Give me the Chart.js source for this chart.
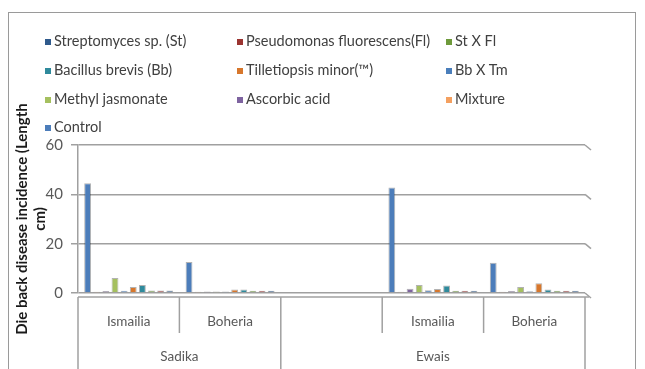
<!DOCTYPE html>
<html>
<head>
<meta charset="utf-8">
<script src="https://cdn.jsdelivr.net/npm/chart.js@4.4.1/dist/chart.umd.min.js"></script>
<style>
  html, body { margin: 0; padding: 0; background: #fff; }
  #wrap { position: relative; width: 645px; height: 369px; overflow: hidden; }
  #frame { position: absolute; left: 8px; top: 12px; width: 628px; height: 400px; border: 1px solid #9a9a9a; box-sizing: border-box; }
  #legend { position: absolute; left: 0; top: 0; font: 14.5px Lato, sans-serif; color: #404040; }
  .item { position: absolute; white-space: nowrap; line-height: 16px; }
  .sw { display: inline-block; width: 6px; height: 6px; margin-right: 3px; vertical-align: 1px; }
  canvas { position: absolute; left: 0; top: 0; }
</style>
</head>
<body>
<div id="wrap">
  <div id="frame"></div>
  <canvas id="chart" width="645" height="369"></canvas>
  <div id="legend"></div>
</div>
<script>
// categories: locations (inner level) and cultivars (outer level)
const categories = ['Ismailia', 'Boheria', '', 'Ismailia', 'Boheria'];
const groups = ['Sadika', 'Ewais'];
const groupSpans = [2, 3];
const yTicks = [0, 20, 40, 60];

// series, in legend order
const seriesNames = [
    'Streptomyces sp. (St)', 'Pseudomonas fluorescens(Fl)', 'St X Fl',
    'Bacillus brevis (Bb)', 'Tilletiopsis minor(\u2122)', 'Bb X Tm',
    'Methyl jasmonate', 'Ascorbic acid', 'Mixture', 'Control'
];
const seriesColors = [
    '#2f5a8c', '#9b3431', '#6e9a3b', '#2f8a9c', '#d7772c',
    '#4a7ebb', '#a5c05f', '#7e63a0', '#f4a060', '#4c7dba'
];
const streptomyces = [1.0, 0.9, null, 0.9, 0.9];
const pseudomonas  = [1.0, 0.9, null, 0.9, 0.9];
const stXfl        = [1.0, 0.9, null, 0.9, 0.9];
const bacillus     = [3.2, 1.4, null, 3.0, 1.4];
const tilletiopsis = [2.4, 1.4, null, 1.6, 4.0];
const bbXtm        = [0.9, 0.6, null, 1.1, 0.7];
const methyl       = [6.1, 0.6, null, 3.2, 2.4];
const ascorbic     = [0.8, 0.6, null, 1.7, 0.8];
const mixture      = [0.5, 0.5, null, 0.5, 0.5];
const control      = [44.5, 12.6, null, 42.8, 12.3];
const seriesValues = [streptomyces, pseudomonas, stXfl, bacillus, tilletiopsis,
                      bbXtm, methyl, ascorbic, mixture, control];

// bars are drawn in reverse legend order (Control first, as in the original)
const datasets = seriesNames.map((name, i) => ({
    label: name,
    data: seriesValues[i],
    backgroundColor: seriesColors[i],
    borderColor: 'rgba(0,0,0,0.3)',
    borderWidth: 1,
    categoryPercentage: 0.9,
    barPercentage: 0.75
})).reverse();

const axisColor = '#a0a0a0';
const labelFont = '13.5px Lato, sans-serif';

// two level category axis + 3d grid tails
const groupAxis = {
    id: 'groupAxis',
    afterDraw(chart) {
        const ctx = chart.ctx;
        const x = chart.scales.x, y = chart.scales.y;
        const slot = x.getPixelForValue(1) - x.getPixelForValue(0);
        const base = y.getPixelForValue(0) + 4;
        ctx.save();
        ctx.strokeStyle = axisColor;
        ctx.lineWidth = 1.5;
        // grid tails at the right
        yTicks.forEach(v => {
            const py = y.getPixelForValue(v);
            ctx.beginPath();
            ctx.moveTo(chart.chartArea.right, py);
            ctx.lineTo(chart.chartArea.right + 6, py + 5);
            ctx.stroke();
        });
        // floor line
        ctx.beginPath();
        ctx.moveTo(chart.chartArea.left, base);
        ctx.lineTo(chart.chartArea.right + 4, base);
        ctx.stroke();
        // separators
        const groupEdges = [0];
        groupSpans.reduce((acc, n) => { groupEdges.push(acc + n); return acc + n; }, 0);
        for (let i = 0; i <= categories.length; i++) {
            const px = x.getPixelForValue(0) - slot / 2 + i * slot;
            ctx.beginPath();
            ctx.moveTo(px, base);
            ctx.lineTo(px, groupEdges.includes(i) ? 369 : base + 36);
            ctx.stroke();
        }
        ctx.fillStyle = '#595959';
        ctx.font = labelFont;
        ctx.textAlign = 'center';
        ctx.textBaseline = 'middle';
        categories.forEach((c, i) => ctx.fillText(c, x.getPixelForValue(i), 322));
        groups.forEach((g, k) => {
            const a = x.getPixelForValue(0) - slot / 2 + groupEdges[k] * slot;
            const b = x.getPixelForValue(0) - slot / 2 + groupEdges[k + 1] * slot;
            ctx.fillText(g, (a + b) / 2, 357);
        });
        ctx.restore();
    }
};

const chart = new Chart(document.getElementById('chart'), {
    type: 'bar',
    data: { labels: categories, datasets: datasets },
    options: {
        responsive: false,
        animation: false,
        layout: { padding: { top: 145, right: 60, bottom: 76, left: 0 } },
        plugins: { legend: { display: false }, tooltip: { enabled: false } },
        scales: {
            x: { display: false },
            y: {
                min: 0, max: 60,
                afterFit: (scale) => { scale.width = 78; },
                afterBuildTicks: (scale) => { scale.ticks = yTicks.map(v => ({ value: v })); },
                ticks: { color: '#595959', font: { family: 'Lato', size: 15 }, padding: 8 },
                grid: { color: axisColor, lineWidth: 1.5, tickLength: 7 },
                border: { color: axisColor, width: 1.5 },
                title: {
                    display: true,
                    text: ['Die back disease incidence (Length', 'cm)'],
                    color: '#1a1a1a',
                    font: { family: 'Lato', size: 15, weight: 'bold' },
                    padding: { top: 13, bottom: 0 }
                }
            }
        }
    },
    plugins: [groupAxis]
});

// legend in three columns, original order
const legendEl = document.getElementById('legend');
const colX = [45, 237, 446];
const rowY = [33, 62, 91, 119];
seriesNames.forEach((name, i) => {
    const el = document.createElement('div');
    el.className = 'item';
    el.style.left = colX[i % 3] + 'px';
    el.style.top = rowY[Math.floor(i / 3)] + 'px';
    el.innerHTML = `<span class="sw" style="background:${seriesColors[i]}"></span>${name}`;
    legendEl.appendChild(el);
});
</script>
</body>
</html>
